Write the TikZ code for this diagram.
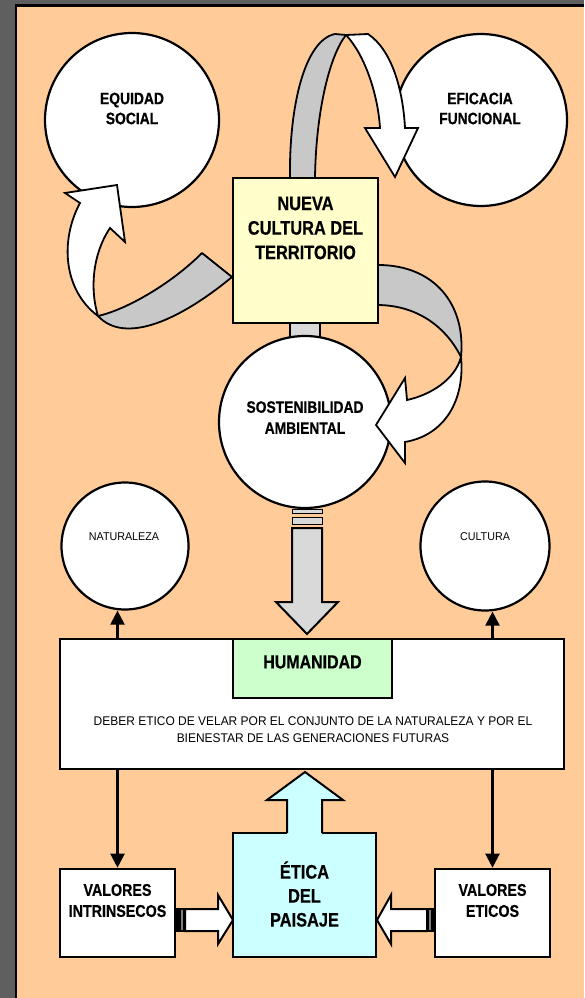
\documentclass[tikz,border=0pt]{standalone}
\usepackage{fontspec}
\newfontfamily\nf[FakeStretch=0.84,BoldFeatures={FakeBold=0.5}]{Liberation Sans}
\newfontfamily\rf[FakeStretch=0.95]{Liberation Sans}
\usetikzlibrary{arrows.meta}
\definecolor{bordergray}{RGB}{95,95,95}
\definecolor{peach}{RGB}{255,204,153}
\definecolor{ribbon}{RGB}{200,200,200}
\definecolor{lgray}{RGB}{217,217,217}
\definecolor{lyellow}{RGB}{255,255,204}
\definecolor{lgreen}{RGB}{204,255,204}
\definecolor{lcyan}{RGB}{204,255,255}
\begin{document}
\begin{tikzpicture}[x=1pt,y=-1pt,
  bubble/.style={circle,draw=black,line width=2.2pt,fill=white,inner sep=0pt},
  box/.style={rectangle,draw=black,line width=2.6pt,inner sep=0pt},
  btxt/.style={align=center,inner sep=0pt},
  conn/.style={line width=2.2pt,-{Triangle[length=14pt,width=14pt]}},
  ribbonback/.style={fill=ribbon,draw=black,line width=1.8pt,line join=round},
  ribbonfront/.style={fill=white,draw=black,line width=1.8pt,line join=miter},
  blockarrow/.style={draw=black,line width=2pt,line join=miter}]
\useasboundingbox (0,0) rectangle (584,998);
% background
\fill[bordergray] (0,0) rectangle (584,998);
\fill[black] (15,4) rectangle (584,998);
\fill[peach] (17,7) rectangle (584,998);

% connector between box and circle (behind)
\filldraw[fill=lgray,draw=black,line width=1.8pt] (290,320) rectangle (320,340);

% top circles
\node[bubble,minimum size=174pt] (eq) at (132,120) {};
\node[bubble,minimum size=172pt] (ef) at (481,120) {};
\node[bubble,minimum size=172pt] (sost) at (305,422) {};

% ribbon: box -> eficacia
\filldraw[ribbonback] (290,185) -- (290,178) .. controls (289,105) and (305,40) .. (335,34) -- (346,35) .. controls (330,55) and (316,110) .. (315,178) -- (315,185) -- cycle;
\filldraw[ribbonfront] (346,35) -- (368,34) .. controls (392,50) and (403,90) .. (405,128) -- (418,128) -- (395,177) -- (365,128) -- (380,128) .. controls (378,95) and (365,55) .. (346,35) -- cycle;

% ribbon: box -> equidad
\filldraw[ribbonback] (202,253) -- (232,277) .. controls (180,320) and (125,345) .. (98,316) .. controls (125,310) and (170,285) .. (202,253) -- cycle;
\filldraw[ribbonfront] (98,316) .. controls (90,290) and (92,255) .. (110,228) -- (125,242) -- (117,185) -- (65,193) -- (80,203) .. controls (60,240) and (63,290) .. (98,316) -- cycle;

% ribbon: box -> sostenibilidad
\filldraw[ribbonback] (370,265) -- (378,265) .. controls (435,265) and (466,305) .. (461,357) .. controls (445,325) and (415,305) .. (377,305) -- (370,305) -- cycle;
\filldraw[ribbonfront] (461,357) .. controls (465,400) and (445,435) .. (405,442) -- (405,463) -- (376,425) -- (405,378) -- (407,400) .. controls (430,395) and (455,380) .. (461,357) -- cycle;

% central box
\node[box,fill=lyellow,minimum width=145pt,minimum height=145pt] (nct) at (305.5,250.5) {};
\node[btxt,font=\nf\bfseries\fontsize{19.5}{24.5}\selectfont] (nctt) at (305.5,228) {NUEVA\\CULTURA DEL\\TERRITORIO};

\node[btxt,font=\nf\bfseries\fontsize{16.5}{20}\selectfont] (eqt) at (132,108.5) {EQUIDAD\\SOCIAL};
\node[btxt,font=\nf\bfseries\fontsize{16.5}{20}\selectfont] (eft) at (480,108.5) {EFICACIA\\FUNCIONAL};
\node[btxt,font=\nf\bfseries\fontsize{16.5}{21}\selectfont] (sostt) at (305,417.5) {SOSTENIBILIDAD\\AMBIENTAL};

% down arrow with bands
\filldraw[fill=lgray,draw=black,line width=1pt] (292,509) rectangle (322,513);
\filldraw[fill=lgray,draw=black,line width=1pt] (292,517) rectangle (322,524);
\filldraw[fill=lgray,blockarrow] (292,528) -- (322,528) -- (322,602) -- (338,602) -- (307,634) -- (276,602) -- (292,602) -- cycle;

% small circles
\node[bubble,minimum size=127pt] (nat) at (125,546) {};
\node[bubble,minimum size=129pt] (cul) at (485,546) {};
\node[btxt,font=\rf\fontsize{11.3}{13}\selectfont] (natt) at (124,537) {NATURALEZA};
\node[btxt,font=\rf\fontsize{11.3}{13}\selectfont] (cult) at (485,537) {CULTURA};

% humanidad block
\node[box,fill=white,minimum width=504pt,minimum height=130pt] (hum) at (312,704) {};
\node[box,fill=lgreen,minimum width=159pt,minimum height=59pt] (humg) at (312.5,668.5) {};
\node[btxt,font=\nf\bfseries\fontsize{19}{23}\selectfont] (humt) at (312.5,662) {HUMANIDAD};
\node[btxt,font=\rf\fontsize{12.6}{17.5}\selectfont] (deber) at (313,729.5) {DEBER ETICO DE VELAR POR EL CONJUNTO DE LA NATURALEZA Y POR EL\\BIENESTAR DE LAS GENERACIONES FUTURAS};

% bottom boxes
\node[box,fill=white,minimum width=115pt,minimum height=88pt] (vi) at (117.5,913) {};
\node[box,fill=white,minimum width=115pt,minimum height=88pt] (ve) at (492.5,913) {};
\node[btxt,font=\nf\bfseries\fontsize{17}{21}\selectfont] (vit) at (117.5,900.5) {VALORES\\INTRINSECOS};
\node[btxt,font=\nf\bfseries\fontsize{17}{21}\selectfont] (vet) at (492.5,900.5) {VALORES\\ETICOS};
\node[box,fill=lcyan,minimum width=143pt,minimum height=124pt] (eti) at (304.5,895) {};

% cyan up arrow
\fill[lcyan] (287,836) -- (287,800) -- (267,800) -- (305,772) -- (343,800) -- (322,800) -- (322,836) -- cycle;
\draw[blockarrow] (287,833) -- (287,800) -- (267,800) -- (305,772) -- (343,800) -- (322,800) -- (322,833);
\node[btxt,font=\nf\bfseries\fontsize{19.5}{24}\selectfont] (etit) at (304.5,894) {ÉTICA\\DEL\\PAISAJE};

% horizontal block arrows
\fill[black] (176,908) rectangle (185,932);
\fill[gray] (181,910) rectangle (183,930);
\filldraw[fill=white,blockarrow] (185,909) -- (218,909) -- (218,895) -- (233,920) -- (218,944) -- (218,931) -- (185,931) -- cycle;
\fill[black] (427,908) rectangle (436,932);
\fill[gray] (429,910) rectangle (431,930);
\filldraw[fill=white,blockarrow] (427,909) -- (391,909) -- (391,895) -- (377,920) -- (391,944) -- (391,931) -- (427,931) -- cycle;

% thin connectors
\draw[conn] (hum.north -| vi) -- (vi |- nat.south);
\draw[conn] (hum.north -| ve) -- (ve |- cul.south);
\draw[conn] (hum.south -| vi) -- (vi.north);
\draw[conn] (hum.south -| ve) -- (ve.north);
\end{tikzpicture}
\end{document}
